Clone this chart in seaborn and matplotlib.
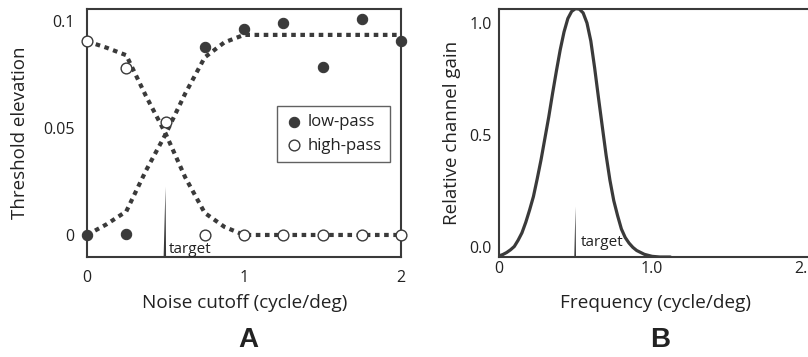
import matplotlib
matplotlib.use("Agg")
import matplotlib.pyplot as plt
import seaborn as sns
import pandas as pd

# ---------------- data ----------------
cutoffs = [0, 0.25, 0.5, 0.75, 1.0, 1.25, 1.5, 1.75, 2.0]
lowpass_thr = [0.0, 0.0003, None, 0.088, 0.0963, 0.0989, 0.0787, 0.1008, 0.0905]
highpass_thr = [0.0905, 0.0779, 0.053, 0.0, 0.0, 0.0, 0.0, 0.0, 0.0]

fit_x = [0, 0.125, 0.25, 0.375, 0.5, 0.625, 0.75, 0.875, 1.0, 1.25, 1.5, 1.75, 2.0]
lowpass_fit = [0.0, 0.005, 0.011, 0.030, 0.047, 0.066, 0.083, 0.090, 0.0935,
               0.0935, 0.0935, 0.0935, 0.0935]
highpass_fit = [0.0905, 0.0875, 0.084, 0.065, 0.0475, 0.027, 0.0103, 0.0038, 0.0,
                0.0, 0.0, 0.0, 0.0]

freq = [0.0, 0.025, 0.05, 0.075, 0.10, 0.125, 0.15, 0.175, 0.20, 0.225, 0.25, 0.275,
        0.30, 0.325, 0.35, 0.375, 0.40, 0.425, 0.45, 0.475, 0.50, 0.525, 0.55, 0.575,
        0.60, 0.625, 0.65, 0.675, 0.70, 0.725, 0.75, 0.775, 0.80, 0.825, 0.85, 0.875,
        0.90, 0.95, 1.00, 1.05, 1.12]
gain = [-0.040, -0.034, -0.025, -0.013, 0.002, 0.030, 0.063, 0.110, 0.165, 0.225, 0.305, 0.390,
        0.485, 0.580, 0.685, 0.785, 0.880, 0.960, 1.020, 1.052, 1.064, 1.062, 1.045, 1.000,
        0.920, 0.800, 0.667, 0.538, 0.410, 0.298, 0.207, 0.140, 0.080, 0.042, 0.017, -0.002,
        -0.016, -0.033, -0.042, -0.045, -0.045]

target_freq = 0.5
target_top_A = 0.0225
target_top_B = 0.18

A_xticks = [0, 1, 2]
A_xticklabels = ["0", "1", "2"]
A_yticks = [0, 0.05, 0.1]
A_yticklabels = ["0", "0.05", "0.1"]
B_xticks = [0, 1, 2]
B_xticklabels = ["0", "1.0", "2.0"]
B_yticks = [0, 0.5, 1.0]
B_yticklabels = ["0.0", "0.5", "1.0"]

# ---------------- style ----------------
sns.set_style("white")
plt.rcParams["font.family"] = ["Open Sans", "DejaVu Sans"]
dark = "#3a3a3a"

W, H = 808, 357
fig = plt.figure(figsize=(W / 100, H / 100), dpi=100)

def frac_box(left, top, right, bottom):
    return [left / W, 1 - bottom / H, (right - left) / W, (bottom - top) / H]

B_unit = 153
axA = fig.add_axes(frac_box(87, 9, 401, 257))
axB = fig.add_axes(frac_box(499, 9, 499 + 2.2 * B_unit, 257))

# ---------------- panel A ----------------
dfp = pd.DataFrame({"x": cutoffs, "low": lowpass_thr, "high": highpass_thr})
dff = pd.DataFrame({"x": fit_x, "low": lowpass_fit, "high": highpass_fit})

for col in ["low", "high"]:
    sns.lineplot(data=dff, x="x", y=col, ax=axA, color=dark, lw=3.0,
                 linestyle=(0, (1.1, 1.1)), dash_capstyle="butt", legend=False,
                 label="_nolegend_", zorder=2)

sns.scatterplot(data=dfp.dropna(subset=["low"]), x="x", y="low", ax=axA, s=55,
                color=dark, edgecolor=dark, linewidth=0.8, label="low-pass",
                zorder=4, clip_on=False)
sns.scatterplot(data=dfp, x="x", y="high", ax=axA, s=60,
                facecolor="white", edgecolor=dark, linewidth=1.0, label="high-pass",
                zorder=4, clip_on=False)

axA.set_xlim(0, 2)
axA.set_ylim(-0.0103, 0.1056)
wA = 0.012
axA.fill([target_freq - wA, target_freq, target_freq + wA * 0.3],
         [-0.0103, target_top_A, -0.0103], color=dark, lw=0, zorder=3)
axA.text(target_freq + 0.022, -0.0068, "target", fontsize=11, color="#222222",
         va="center", ha="left")

axA.set_xticks(A_xticks)
axA.set_xticklabels(A_xticklabels)
axA.set_yticks(A_yticks)
axA.set_yticklabels(A_yticklabels)
axA.tick_params(axis="both", length=0, labelsize=11.5, colors="#222222")
axA.tick_params(axis="y", pad=9)
axA.tick_params(axis="x", pad=9)
axA.set_xlabel("Noise cutoff (cycle/deg)", fontsize=13.7, color="#222222")
axA.set_ylabel("Threshold elevation", fontsize=13.5, color="#222222")
axA.xaxis.set_label_coords(158 / 314, (257 - 303) / 248)
axA.xaxis.label.set_va("center")
axA.yaxis.set_label_coords((20 - 87) / 314, 0.5)
axA.yaxis.label.set_va("center")
for sp in axA.spines.values():
    sp.set_visible(True)
    sp.set_color(dark)
    sp.set_linewidth(1.5)

leg = axA.legend(loc="upper left", bbox_to_anchor=((277 - 87) / 314, 1 - (106 - 9) / 248),
                 frameon=True, fancybox=False, fontsize=12, handletextpad=0.35,
                 borderpad=0.5, labelspacing=0.45, handlelength=1.0, borderaxespad=0)
leg.get_frame().set_edgecolor(dark)
leg.get_frame().set_linewidth(1.0)
for t in leg.get_texts():
    t.set_color("#222222")

# ---------------- panel B ----------------
dfg = pd.DataFrame({"f": freq, "g": gain})
sns.lineplot(data=dfg, x="f", y="g", ax=axB, color=dark, lw=2.3, legend=False)
axB.set_xlim(0, 2.2)
axB.set_ylim(-0.045, 1.0625)
wB = 0.008
axB.fill([target_freq - wB, target_freq, target_freq + wB * 0.4],
         [-0.045, target_top_B, -0.045], color=dark, lw=0, zorder=3)
axB.text(target_freq + 0.035, 0.018, "target", fontsize=11, color="#222222",
         va="center", ha="left")
axB.set_xticks(B_xticks)
axB.set_xticklabels(B_xticklabels)
axB.set_yticks(B_yticks)
axB.set_yticklabels(B_yticklabels)
axB.tick_params(axis="both", length=0, labelsize=11.5, colors="#222222")
axB.tick_params(axis="y", pad=5)
axB.tick_params(axis="x", pad=3)
axB.set_xlabel("Frequency (cycle/deg)", fontsize=13.7, color="#222222")
axB.set_ylabel("Relative channel gain", fontsize=13.5, color="#222222")
axB.xaxis.set_label_coords((655 - 499) / (2.2 * B_unit), (257 - 303) / 248)
axB.xaxis.label.set_va("center")
axB.yaxis.set_label_coords((452 - 499) / (2.2 * B_unit), 0.5)
axB.yaxis.label.set_va("center")
for name, sp in axB.spines.items():
    sp.set_color(dark)
    sp.set_linewidth(1.5)
    sp.set_visible(name != "right")

fig.text(248 / W, 1 - 340 / H, "A", fontsize=20, fontweight="bold",
         family="Liberation Sans", ha="center", va="center", color="#222222")
fig.text(660 / W, 1 - 340 / H, "B", fontsize=20, fontweight="bold",
         family="Liberation Sans", ha="center", va="center", color="#222222")

fig.savefig("out.png", dpi=100)
